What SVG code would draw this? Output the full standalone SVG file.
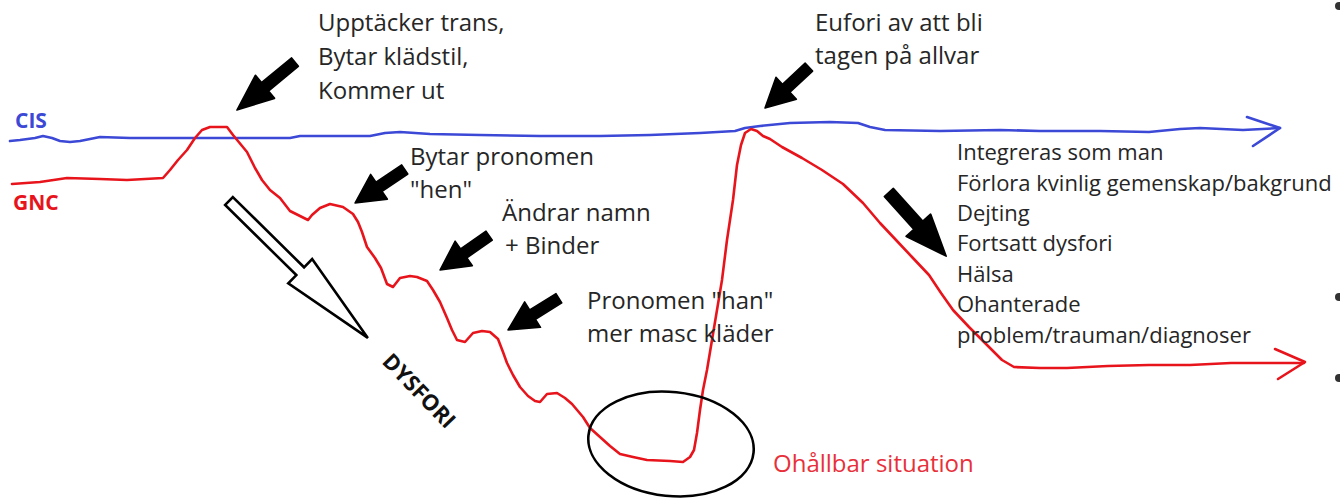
<svg xmlns="http://www.w3.org/2000/svg" width="1340" height="499" viewBox="0 0 1340 499">
<style>
  .txt { font-family: "Open Sans", "Noto Sans", "Liberation Sans", sans-serif; fill: #262626; font-size: 22px; }
  .lbl { font-size: 24px; }
  .blue { fill: none; stroke: #3c48d6; stroke-width: 2.6; stroke-linejoin: round; stroke-linecap: round; }
  .red { fill: none; stroke: #e8141c; stroke-width: 2.6; stroke-linejoin: round; stroke-linecap: round; }
  .blk { fill: #000; stroke: #000; stroke-width: 1.5; stroke-linejoin: round; }
  .hollow { fill: #fff; stroke: #000; stroke-width: 2.6; stroke-linejoin: miter; }
</style>
<defs>
  <path id="fatArrow" d="M -60 -5.5 L -29 -5.5 L -29 -15 L 0 0 L -29 15 L -29 5.5 L -60 5.5 Z"/>
</defs>
<rect width="1340" height="499" fill="#fff"/>

<g id="cis">
  <polyline class="blue" points="10,141 20,140 35,138 43,136 52,138 60,141 70,142 80,141 90,139 100,137 130,138 160,138 200,138 240,138 290,138 300,136 330,136 370,136 385,133 400,132 430,134 480,135 540,136 600,136 650,135 700,133 735,131 745,128 760,126 790,123 830,122 858,123 870,127 885,130 940,131 1000,130 1040,131 1067,131 1100,131 1149,132 1180,129 1200,128 1243,130 1280,128"/>
  <polyline class="blue" points="1247,117 1280,128 1253,146"/>
  <text class="txt" x="15" y="128" style="font-size:21px;font-weight:bold;fill:#3c48d6">CIS</text>
</g>

<g id="gnc">
  <polyline class="red" points="12,184 40,182 67,178 100,179 127,180 163,178 170,170 178,160 187,150 195,138 202,130 210,127 227,127 233,135 247,152 255,168 262,180 270,190 280,198 290,211 300,216 308,220 312,215 320,208 330,204 343,207 353,214 358,222 362,232 367,247 375,258 381,268 387,284 393,287 400,278 410,276 417,277 427,281 433,290 440,302 447,318 452,330 457,340 465,342 473,333 482,331 490,332 498,339 503,352 507,363 513,375 520,387 528,396 535,401 540,402 547,394 557,393 565,398 572,404 583,417 590,428 600,437 610,446 620,454 633,457 647,460 670,461 683,462 690,457 694,450 697,433 700,410 703,390 707,370 712,340 717,310 722,280 727,240 733,200 737,165 741,145 745,133 751,129 757,131 763,136 770,139 782,147 802,158 822,170 843,184 863,203 880,223 896,240 912,257 929,275 941,293 953,310 969,327 986,344 1002,360 1014,367 1040,368 1067,368 1108,366 1149,365 1190,365 1231,363 1304,363"/>
  <polyline class="red" points="1275,349 1305,362 1278,379"/>
  <text class="txt" x="13" y="210" style="font-size:21px;font-weight:bold;fill:#e8141c">GNC</text>
</g>

<g id="connectors">
  <use href="#fatArrow" class="blk" transform="translate(237,110) rotate(140.4) scale(1.25,1)"/>
  <use href="#fatArrow" class="blk" transform="translate(355,203) rotate(146)"/>
  <use href="#fatArrow" class="blk" transform="translate(440,270) rotate(145)"/>
  <use href="#fatArrow" class="blk" transform="translate(508,330) rotate(148)"/>
  <use href="#fatArrow" class="blk" transform="translate(765,108) rotate(137)"/>
  <use href="#fatArrow" class="blk" transform="translate(946,256) rotate(48) scale(1.42,1.1)"/>
</g>

<g id="dysfori">
  <path class="hollow" transform="translate(229,201) rotate(44.6)" d="M 0 -5.5 L 100 -5.5 L 100 -17 L 195 0 L 100 17 L 100 5.5 L 0 5.5 Z"/>
  <text class="txt" transform="translate(419,391) rotate(46)" x="0" y="7.5" text-anchor="middle" style="font-size:22px;font-weight:bold;fill:#111">DYSFORI</text>
</g>

<g id="unsustainable">
  <ellipse cx="671" cy="444" rx="83" ry="52" transform="rotate(6 671 444)" fill="none" stroke="#000" stroke-width="2.6"/>
  <text class="txt lbl" x="773" y="472" style="fill:#e8303a">Ohållbar situation</text>
</g>

<g id="label-upptacker">
  <text class="txt lbl" x="318" y="31">Upptäcker trans,</text>
  <text class="txt lbl" x="318" y="65">Bytar klädstil,</text>
  <text class="txt lbl" x="318" y="99">Kommer ut</text>
</g>
<g id="label-eufori">
  <text class="txt lbl" x="815" y="31">Eufori av att bli</text>
  <text class="txt lbl" x="815" y="64">tagen på allvar</text>
</g>
<g id="label-hen">
  <text class="txt lbl" x="410" y="165">Bytar pronomen</text>
  <text class="txt lbl" x="410" y="198">"hen"</text>
</g>
<g id="label-namn">
  <text class="txt lbl" x="502" y="221">Ändrar namn</text>
  <text class="txt lbl" x="505" y="254">+ Binder</text>
</g>
<g id="label-han">
  <text class="txt lbl" x="587" y="309">Pronomen "han"</text>
  <text class="txt lbl" x="587" y="342">mer masc kläder</text>
</g>
<g id="label-list">
  <text class="txt" x="957" y="160">Integreras som man</text>
  <text class="txt" x="957" y="191">Förlora kvinlig gemenskap/bakgrund</text>
  <text class="txt" x="957" y="221">Dejting</text>
  <text class="txt" x="957" y="251">Fortsatt dysfori</text>
  <text class="txt" x="957" y="282">Hälsa</text>
  <text class="txt" x="957" y="312">Ohanterade</text>
  <text class="txt" x="957" y="343">problem/trauman/diagnoser</text>
</g>

<g id="edge-bullets" fill="#333">
  <circle cx="1339" cy="6" r="4"/>
  <circle cx="1339" cy="297" r="4"/>
  <circle cx="1339" cy="378" r="4"/>
</g>
</svg>
